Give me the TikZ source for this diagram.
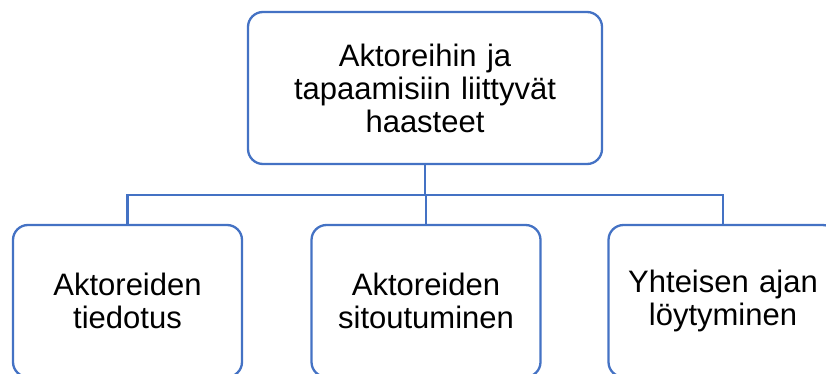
\documentclass[tikz,border=0pt]{standalone}
\usepackage{fontspec}
\setmainfont{Liberation Sans}
\usetikzlibrary{positioning}
\definecolor{boxColor}{HTML}{4472C4}

\begin{document}
\begin{tikzpicture}[x=1pt,y=-1pt]

          \tikzstyle{topBox} = [draw=boxColor, line width=2.3pt, rounded corners=15pt, fill=white,
            minimum width=354pt, minimum height=152pt, text width=340pt, align=center,
            font=\fontsize{31}{33}\selectfont];
          \tikzstyle{subBox} = [topBox, minimum width=229pt, text width=220pt];
          \tikzstyle{linkEdge} = [draw=boxColor, line width=2.3pt];

          \clip (0,0) rectangle (826,374);
          \useasboundingbox (0,0) rectangle (826,374);

          \node[topBox] (top) at (425,88) {Aktoreihin ja\\tapaamisiin liittyvät\\haasteet};
          \node[subBox] (tiedotus) at (127.5,301) {Aktoreiden\\tiedotus};
          \node[subBox] (sitoutuminen) at (426,301) {Aktoreiden\\sitoutuminen};
          \node[subBox] (aika) at (723,301) {Yhteisen ajan\\löytyminen};
          \coordinate (bus) at (425,195);

          \draw[linkEdge] (top.south) -- (bus);
          \draw[linkEdge] (tiedotus.north) |- (bus) -| (aika.north);
          \draw[linkEdge] (bus) -| (sitoutuminen.north);
        \end{tikzpicture}
\end{document}
